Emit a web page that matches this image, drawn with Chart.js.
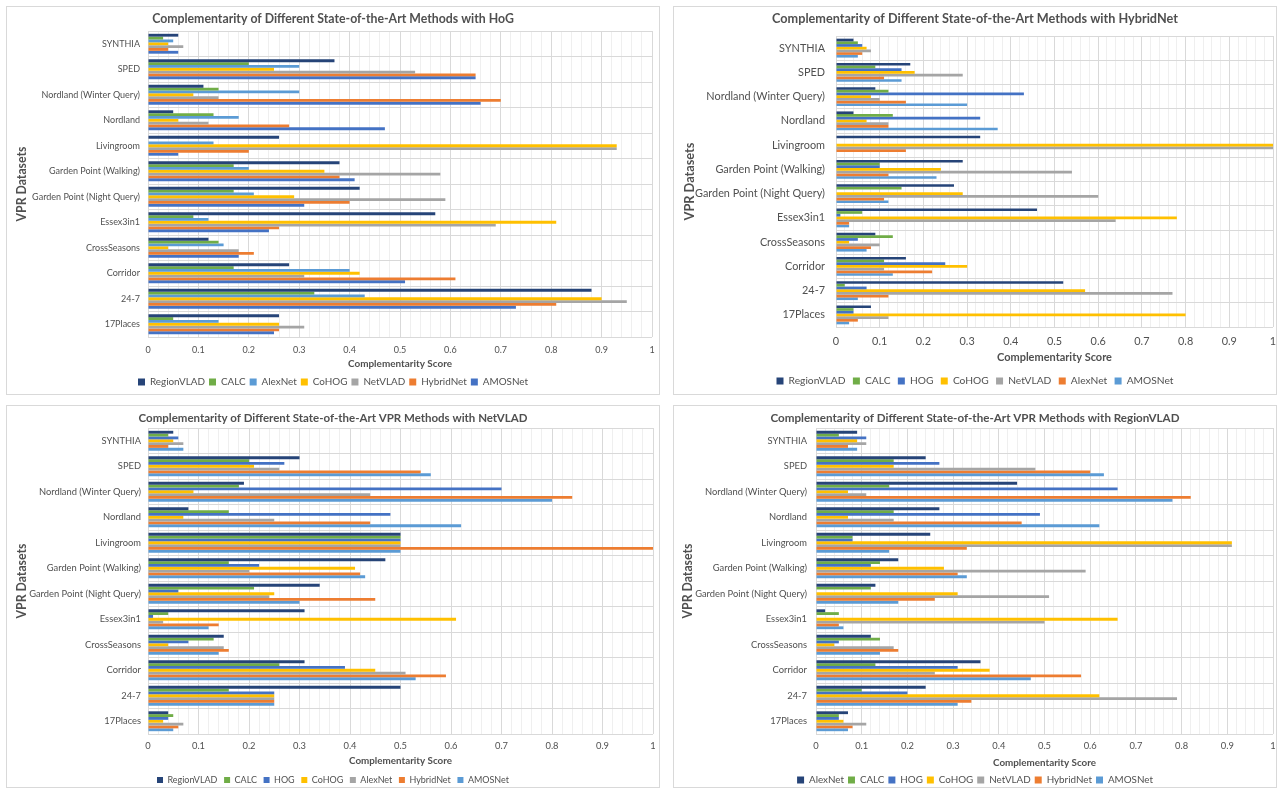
<!DOCTYPE html>
<html>
<head>
<meta charset="utf-8">
<script src="https://cdn.jsdelivr.net/npm/chart.js@4.4.1/dist/chart.umd.min.js"></script>
<style>
  html, body { margin: 0; padding: 0; background: #ffffff; width: 1278px; height: 789px; overflow: hidden; position: relative; }
  .card { position: absolute; box-sizing: border-box; border: 1px solid #d9d9d9; background: #ffffff; }
  canvas { position: absolute; }
</style>
</head>
<body>
<script>
// VPR datasets, listed top to bottom on the category axis
const vprDatasets = ['SYNTHIA', 'SPED', 'Nordland (Winter Query)', 'Nordland', 'Livingroom',
  'Garden Point (Walking)', 'Garden Point (Night Query)', 'Essex3in1', 'CrossSeasons',
  'Corridor', '24-7', '17Places'];

// labels of the major ticks on the score axis
const scoreTickLabels = ['0', '0.1', '0.2', '0.3', '0.4', '0.5', '0.6', '0.7', '0.8', '0.9', '1'];

// --- complementarity with HoG ---
const hogMethods = ['RegionVLAD', 'CALC', 'AlexNet', 'CoHOG', 'NetVLAD', 'HybridNet', 'AMOSNet'];
const hogScores = [
  [0.06, 0.37, 0.11, 0.05, 0.26, 0.38, 0.42, 0.57, 0.12, 0.28, 0.88, 0.26], // RegionVLAD
  [0.03, 0.20, 0.14, 0.13, 0.00, 0.17, 0.17, 0.09, 0.14, 0.17, 0.33, 0.05], // CALC
  [0.05, 0.30, 0.30, 0.18, 0.13, 0.20, 0.21, 0.12, 0.15, 0.40, 0.43, 0.14], // AlexNet
  [0.04, 0.25, 0.09, 0.06, 0.93, 0.35, 0.29, 0.81, 0.04, 0.42, 0.90, 0.26], // CoHOG
  [0.07, 0.53, 0.14, 0.12, 0.93, 0.58, 0.59, 0.69, 0.18, 0.31, 0.95, 0.31], // NetVLAD
  [0.04, 0.65, 0.70, 0.28, 0.20, 0.38, 0.40, 0.26, 0.21, 0.61, 0.81, 0.26], // HybridNet
  [0.06, 0.65, 0.66, 0.47, 0.06, 0.41, 0.31, 0.24, 0.18, 0.51, 0.73, 0.25]  // AMOSNet
];

// --- complementarity with HybridNet ---
const hybridMethods = ['RegionVLAD', 'CALC', 'HOG', 'CoHOG', 'NetVLAD', 'AlexNet', 'AMOSNet'];
const hybridScores = [
  [0.04, 0.17, 0.09, 0.04, 0.33, 0.29, 0.27, 0.46, 0.09, 0.16, 0.52, 0.08], // RegionVLAD
  [0.05, 0.09, 0.12, 0.13, 0.00, 0.10, 0.15, 0.06, 0.13, 0.11, 0.02, 0.04], // CALC
  [0.06, 0.15, 0.43, 0.33, 0.00, 0.10, 0.00, 0.01, 0.05, 0.25, 0.07, 0.04], // HOG
  [0.07, 0.18, 0.08, 0.07, 1.00, 0.24, 0.29, 0.78, 0.03, 0.30, 0.57, 0.80], // CoHOG
  [0.08, 0.29, 0.10, 0.12, 1.00, 0.54, 0.60, 0.64, 0.10, 0.11, 0.77, 0.12], // NetVLAD
  [0.06, 0.11, 0.16, 0.12, 0.16, 0.12, 0.11, 0.03, 0.08, 0.22, 0.12, 0.05], // AlexNet
  [0.05, 0.15, 0.30, 0.37, 0.00, 0.23, 0.12, 0.03, 0.07, 0.13, 0.05, 0.03]  // AMOSNet
];

// --- complementarity with NetVLAD ---
const netvladMethods = ['RegionVLAD', 'CALC', 'HOG', 'CoHOG', 'AlexNet', 'HybridNet', 'AMOSNet'];
const netvladScores = [
  [0.05, 0.30, 0.19, 0.08, 0.50, 0.47, 0.34, 0.31, 0.15, 0.31, 0.50, 0.04], // RegionVLAD
  [0.04, 0.20, 0.18, 0.16, 0.50, 0.16, 0.21, 0.04, 0.13, 0.26, 0.16, 0.05], // CALC
  [0.06, 0.27, 0.70, 0.48, 0.50, 0.22, 0.06, 0.01, 0.08, 0.39, 0.25, 0.04], // HOG
  [0.05, 0.21, 0.09, 0.07, 0.50, 0.41, 0.25, 0.61, 0.04, 0.45, 0.25, 0.03], // CoHOG
  [0.07, 0.26, 0.44, 0.25, 0.50, 0.20, 0.24, 0.03, 0.15, 0.51, 0.25, 0.07], // AlexNet
  [0.04, 0.54, 0.84, 0.44, 1.00, 0.42, 0.45, 0.14, 0.16, 0.59, 0.25, 0.06], // HybridNet
  [0.07, 0.56, 0.80, 0.62, 0.50, 0.43, 0.30, 0.12, 0.14, 0.53, 0.25, 0.05]  // AMOSNet
];

// --- complementarity with RegionVLAD ---
const regionvladMethods = ['AlexNet', 'CALC', 'HOG', 'CoHOG', 'NetVLAD', 'HybridNet', 'AMOSNet'];
const regionvladScores = [
  [0.09, 0.24, 0.44, 0.27, 0.25, 0.18, 0.13, 0.02, 0.12, 0.36, 0.24, 0.07], // AlexNet
  [0.05, 0.17, 0.16, 0.17, 0.08, 0.14, 0.12, 0.05, 0.14, 0.13, 0.10, 0.05], // CALC
  [0.11, 0.27, 0.66, 0.49, 0.08, 0.12, 0.00, 0.00, 0.05, 0.31, 0.20, 0.05], // HOG
  [0.09, 0.17, 0.07, 0.07, 0.91, 0.28, 0.31, 0.66, 0.04, 0.38, 0.62, 0.06], // CoHOG
  [0.11, 0.48, 0.11, 0.17, 0.91, 0.59, 0.51, 0.50, 0.17, 0.26, 0.79, 0.11], // NetVLAD
  [0.07, 0.60, 0.82, 0.45, 0.33, 0.31, 0.26, 0.05, 0.18, 0.58, 0.34, 0.08], // HybridNet
  [0.09, 0.63, 0.78, 0.62, 0.16, 0.33, 0.18, 0.06, 0.14, 0.47, 0.31, 0.07]  // AMOSNet
];

// Office-style palette
const NAVY = '#264478', GREEN = '#70AD47', LIGHT_BLUE = '#5B9BD5', BLUE = '#4472C4',
      GOLD = '#FFC000', GREY = '#A5A5A5', ORANGE = '#ED7D31';
const TEXT = '#505050', GRID_MAJOR = '#d9d9d9', GRID_MINOR = '#efefef';
const FAMILY = 'Lato, "Open Sans", sans-serif';

const measureCtx = document.createElement('canvas').getContext('2d');
function textWidth(text, size, weight) {
  measureCtx.font = weight + ' ' + size + 'px ' + FAMILY;
  return measureCtx.measureText(text).width;
}
// font size that gives a string the requested width
function fitSize(text, width, weight) {
  return +(100 * width / textWidth(text, 100, weight)).toFixed(2);
}

// layout of each card on the page: card box, plot box, text centre lines
const panels = [
  { title: 'Complementarity of Different State-of-the-Art Methods with HoG',
    methods: hogMethods, scores: hogScores,
    colors: [NAVY, GREEN, LIGHT_BLUE, GOLD, GREY, ORANGE, BLUE],
    card: [6, 6, 660, 395], plot: [148, 31, 652, 337],
    titleY: 19, yTitleX: 22, tickY: 350, xTitleY: 364, legendY: 382, labelGap: 8,
    widths: { title: 362, category: 108, xTitle: 104, yTitle: 75, legendKey: 55, legend: 390 } },
  { title: 'Complementarity of Different State-of-the-Art Methods with HybridNet',
    methods: hybridMethods, scores: hybridScores,
    colors: [NAVY, GREEN, BLUE, GOLD, GREY, ORANGE, LIGHT_BLUE],
    card: [673, 6, 1277, 395], plot: [836, 36, 1273, 327],
    titleY: 19, yTitleX: 690, tickY: 341, xTitleY: 357, legendY: 381, labelGap: 11,
    widths: { title: 406, category: 130, xTitle: 115, yTitle: 78, legendKey: 57, legend: 397 } },
  { title: 'Complementarity of Different State-of-the-Art VPR Methods with NetVLAD',
    methods: netvladMethods, scores: netvladScores,
    colors: [NAVY, GREEN, BLUE, GOLD, GREY, ORANGE, LIGHT_BLUE],
    card: [6, 405, 660, 788], plot: [148, 428, 653, 734],
    titleY: 418, yTitleX: 22, tickY: 746, xTitleY: 761, legendY: 780, labelGap: 7,
    widths: { title: 389, category: 112, xTitle: 103, yTitle: 75, legendKey: 50, legend: 352 } },
  { title: 'Complementarity of Different State-of-the-Art VPR Methods with RegionVLAD',
    methods: regionvladMethods, scores: regionvladScores,
    colors: [NAVY, GREEN, BLUE, GOLD, GREY, ORANGE, LIGHT_BLUE],
    card: [673, 405, 1277, 788], plot: [816, 428, 1273, 734],
    titleY: 418, yTitleX: 688, tickY: 746, xTitleY: 763, legendY: 780, labelGap: 9,
    widths: { title: 409, category: 112, xTitle: 103, yTitle: 75, legendKey: 35, legend: 335 } }
];

function buildPanel(p) {
  const [cl, ct, cr, cb] = p.card;
  const [pl, pt, pr, pb] = p.plot;

  const card = document.createElement('div');
  card.className = 'card';
  Object.assign(card.style, { left: cl + 'px', top: ct + 'px', width: (cr - cl) + 'px', height: (cb - ct) + 'px' });
  document.body.appendChild(card);

  const fs = {
    title: fitSize(p.title, p.widths.title, 'bold'),
    category: fitSize('Garden Point (Night Query)', p.widths.category, 'normal'),
    xTitle: fitSize('Complementarity Score', p.widths.xTitle, 'bold'),
    yTitle: fitSize('VPR Datasets', p.widths.yTitle, 'bold'),
    legend: fitSize(p.methods[0], p.widths.legendKey, 'normal')
  };
  fs.tick = fs.category;

  // legend geometry
  const box = Math.round(fs.legend * 0.72);
  const itemH = Math.max(fs.legend, box);
  const itemsW = p.methods.reduce((s, m) => s + box + fs.legend / 2 + textWidth(m, fs.legend, 'normal'), 0);
  const legendPad = Math.max(4, (p.widths.legend - itemsW) / (p.methods.length - 1));

  // canvas centred on the card, wide enough for the right padding
  const side = 20;
  const centre = (cl + cr) / 2;
  const halfW = Math.ceil(pr + side - centre);
  const canvasLeft = Math.round(centre - halfW);
  const W = 2 * halfW;
  const padR = canvasLeft + W - pr;
  const padL = padR;

  const legendBase = p.legendY - ct + 10 + itemH / 2;
  const H = Math.ceil(legendBase) + 2;
  const padBottom = H - legendBase;
  const legendTop = p.legendY - ct - itemH / 2 - legendPad;   // relative to canvas top
  const xScaleH = legendTop - (pb - ct);
  const yScaleW = pl - canvasLeft - padL;

  const titlePadTop = p.titleY - ct - 0.6 * fs.title;
  const titlePadBottom = (pt - ct) - titlePadTop - 1.2 * fs.title;
  const xTickPad = p.tickY - pb - 0.6 * fs.tick;
  const xTitlePadBottom = (legendTop + ct) - p.xTitleY - 0.6 * fs.xTitle;
  const yTitlePadTop = p.yTitleX - (canvasLeft + padL) - 0.6 * fs.yTitle;

  const canvas = document.createElement('canvas');
  canvas.width = W; canvas.height = H;
  Object.assign(canvas.style, { left: canvasLeft + 'px', top: ct + 'px', width: W + 'px', height: H + 'px' });
  document.body.appendChild(canvas);

  new Chart(canvas, {
    type: 'bar',
    data: {
      labels: vprDatasets,
      datasets: p.methods.map((m, i) => ({
        label: m,
        data: p.scores[i],
        backgroundColor: p.colors[i],
        borderWidth: 0,
        barPercentage: 1,
        categoryPercentage: 0.78
      }))
    },
    options: {
      indexAxis: 'y',
      responsive: false,
      animation: false,
      devicePixelRatio: 1,
      layout: { padding: { left: padL, right: padR, top: 0, bottom: padBottom } },
      plugins: {
        title: {
          display: true, text: p.title, color: TEXT,
          font: { family: FAMILY, size: fs.title, weight: 'bold' },
          padding: { top: titlePadTop, bottom: titlePadBottom }
        },
        legend: {
          position: 'bottom',
          labels: {
            color: TEXT, boxWidth: box, boxHeight: box, padding: legendPad,
            font: { family: FAMILY, size: fs.legend }
          }
        },
        tooltip: { enabled: false }
      },
      scales: {
        x: {
          type: 'linear', min: 0, max: 1,
          ticks: {
            stepSize: 0.02, autoSkip: false, minRotation: 0, maxRotation: 0,
            padding: xTickPad, color: TEXT,
            font: { family: FAMILY, size: fs.tick },
            callback: (v, i) => (i % 5 === 0 ? scoreTickLabels[i / 5] : '')
          },
          grid: { color: c => (c.index % 5 === 0 ? GRID_MAJOR : GRID_MINOR), drawTicks: false },
          border: { display: false },
          title: {
            display: true, text: 'Complementarity Score', color: TEXT,
            font: { family: FAMILY, size: fs.xTitle, weight: 'bold' },
            padding: { top: 0, bottom: xTitlePadBottom }
          },
          afterFit: s => { s.height = xScaleH; }
        },
        y: {
          type: 'category',
          ticks: { autoSkip: false, padding: p.labelGap, color: TEXT, font: { family: FAMILY, size: fs.category } },
          grid: { color: GRID_MAJOR, drawTicks: false, offset: true },
          border: { display: false },
          title: {
            display: true, text: 'VPR Datasets', color: TEXT,
            font: { family: FAMILY, size: fs.yTitle, weight: 'bold' },
            padding: { top: yTitlePadTop, bottom: 0 }
          },
          afterFit: s => { s.width = yScaleW; }
        }
      }
    }
  });
}

panels.forEach(buildPanel);
</script>
</body>
</html>
